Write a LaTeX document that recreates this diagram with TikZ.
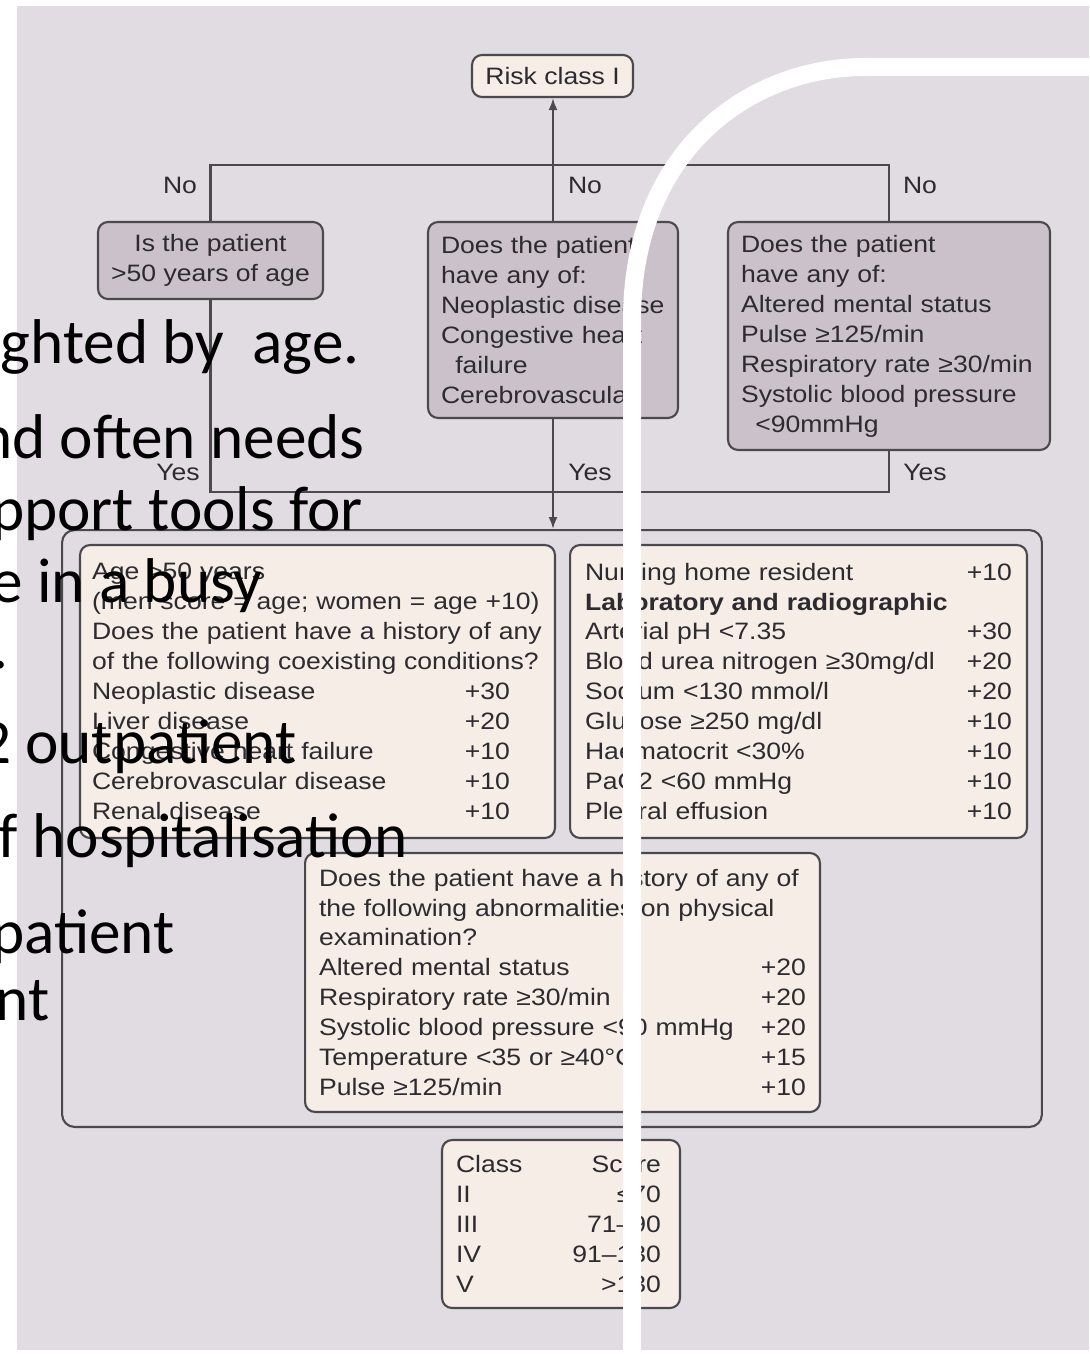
\documentclass[tikz,border=0pt]{standalone}
\usepackage{fontspec}
\usetikzlibrary{arrows.meta}
\newfontfamily\chartfont{Liberation Sans}[FakeStretch=1.12]
\newfontfamily\slidefont{Carlito}
\newcommand\chartsize{\fontsize{13.5pt}{17.07pt}\selectfont}
\newcommand\slidesize{\fontsize{36pt}{43pt}\selectfont}
\definecolor{bgcol}{RGB}{224,220,225}
\definecolor{cream}{RGB}{245,237,230}
\definecolor{askfill}{RGB}{203,193,202}
\definecolor{linecol}{RGB}{75,73,77}
\definecolor{txtcol}{RGB}{45,43,47}

\begin{document}
\begin{tikzpicture}[x=0.02cm,y=-0.02cm,
    box/.style={draw=linecol,line width=1.2pt,rounded corners=0.2cm,inner sep=0pt,text=txtcol,font=\chartfont\chartsize},
    ask/.style={box,fill=askfill},
    tally/.style={box,fill=cream,align=left},
    lbl/.style={inner sep=0pt,text=txtcol,font=\chartfont\chartsize},
    wire/.style={draw=linecol,line width=1.2pt},
    tip/.style={-{Latex[length=0.24cm,width=0.18cm]}},
    slide/.style={inner sep=0pt,anchor=base east,font=\slidefont\slidesize}]
          \useasboundingbox (0,0) rectangle (1089,1354);
          \clip (0,0) rectangle (1089,1354);
          \fill[white] (0,0) rectangle (1089,1354);
          \fill[bgcol] (17,6) rectangle (1089,1350);
          \node[box,fill=cream,minimum width=3.22cm,minimum height=0.84cm] (risk) at (552.5,76) {Risk class I};
          \node[ask,align=center,minimum width=4.5cm,minimum height=1.54cm] (agebox) at (210.5,260.5) {Is the patient\\>50 years of age};
          \node[ask,align=left,text width=4.48cm,minimum width=5cm,minimum height=3.92cm] (hxbox) at (553,320) {Does the patient\\have any of:\\Neoplastic disease\\Congestive heart\\\hspace*{0.6em}failure\\Cerebrovascular};
          \node[ask,align=left,text width=5.92cm,minimum width=6.44cm,minimum height=4.56cm] (vitalbox) at (889,336) {Does the patient\\have any of:\\Altered mental status\\Pulse ≥125/min\\Respiratory rate ≥30/min\\Systolic blood pressure\\\hspace*{0.6em}<90mmHg};
          \node[lbl] (no1) at (180,185) {No};
          \node[lbl] (no2) at (585,185) {No};
          \node[lbl] (no3) at (920,185) {No};
          \node[lbl] (yes1) at (178,472) {Yes};
          \node[lbl] (yes2) at (590,472) {Yes};
          \node[lbl] (yes3) at (925,472) {Yes};
          \node[box,rounded corners=0.25cm,minimum width=19.6cm,minimum height=11.94cm] (scores) at (552,828.5) {};
          \coordinate (tr) at (889,165);
          \coordinate (br) at (889,492);
          \draw[wire] (agebox.north) |- (tr) -- (vitalbox.north);
          \draw[wire,tip] (hxbox.north) -- (hxbox.north |- risk.south);
          \draw[wire] (agebox.south) |- (br) -- (vitalbox.south);
          \draw[wire,tip] (hxbox.south) -- (hxbox.south |- scores.north);
          \node[tally,text width=9.02cm,minimum width=9.5cm,minimum height=5.86cm] (comorb) at (317.5,691.5) {Age >50 years\\(men score = age; women = age +10)\\Does the patient have a history of any\\of the following coexisting conditions?\\Neoplastic disease\hfill+30\kern0.66cm\\Liver disease\hfill+20\kern0.66cm\\Congestive heart failure\hfill+10\kern0.66cm\\Cerebrovascular disease\hfill+10\kern0.66cm\\Renal disease\hfill+10\kern0.66cm};
          \node[tally,text width=8.54cm,minimum width=9.14cm,minimum height=5.86cm] (labs) at (798.5,691.5) {Nursing home resident\hfill+10\\\textbf{Laboratory and radiographic}\\Arterial pH <7.35\hfill+30\\Blood urea nitrogen ≥30mg/dl\hfill+20\\Sodium <130 mmol/l\hfill+20\\Glucose ≥250 mg/dl\hfill+10\\Haematocrit <30\%\hfill+10\\PaO2 <60 mmHg\hfill+10\\Pleural effusion\hfill+10};
          \node[tally,text width=9.74cm,minimum width=10.3cm,minimum height=5.18cm] (exam) at (562.5,982.5) {Does the patient have a history of any of\\the following abnormalities on physical\\examination?\\Altered mental status\hfill+20\\Respiratory rate ≥30/min\hfill+20\\Systolic blood pressure <90 mmHg\hfill+20\\Temperature <35 or ≥40°C\hfill+15\\Pulse ≥125/min\hfill+10};
          \node[tally,text width=4.2cm,minimum width=4.76cm,minimum height=3.36cm] (classes) at (561,1224) {Class\hfill Score\kern0.1cm\\II\hfill ≤70\kern0.1cm\\III\hfill 71–90\kern0.1cm\\IV\hfill 91–130\kern0.1cm\\V\hfill >130\kern0.1cm};
          \draw[white,line width=0.36cm] (1100,67) -- (865,67) .. controls (750,67) and (632,150) .. (632,320) -- (632,1360);
          \node[slide] (s1) at (360,363) {ghted by~~age.};
          \node[slide] (s2) at (365,458) {nd often needs};
          \node[slide] (s3) at (363,530) {pport tools for};
          \node[slide] (s4) at (263,602) {e in a busy};
          \node[slide] (s5) at (9,668) {.};
          \node[slide] (s6) at (297,763) {2 outpatient};
          \node[slide] (s7) at (408,857) {f hospitalisation};
          \node[slide] (s8) at (175,953) {patient};
          \node[slide] (s9) at (50,1020) {nt};
      \end{tikzpicture}
\end{document}
